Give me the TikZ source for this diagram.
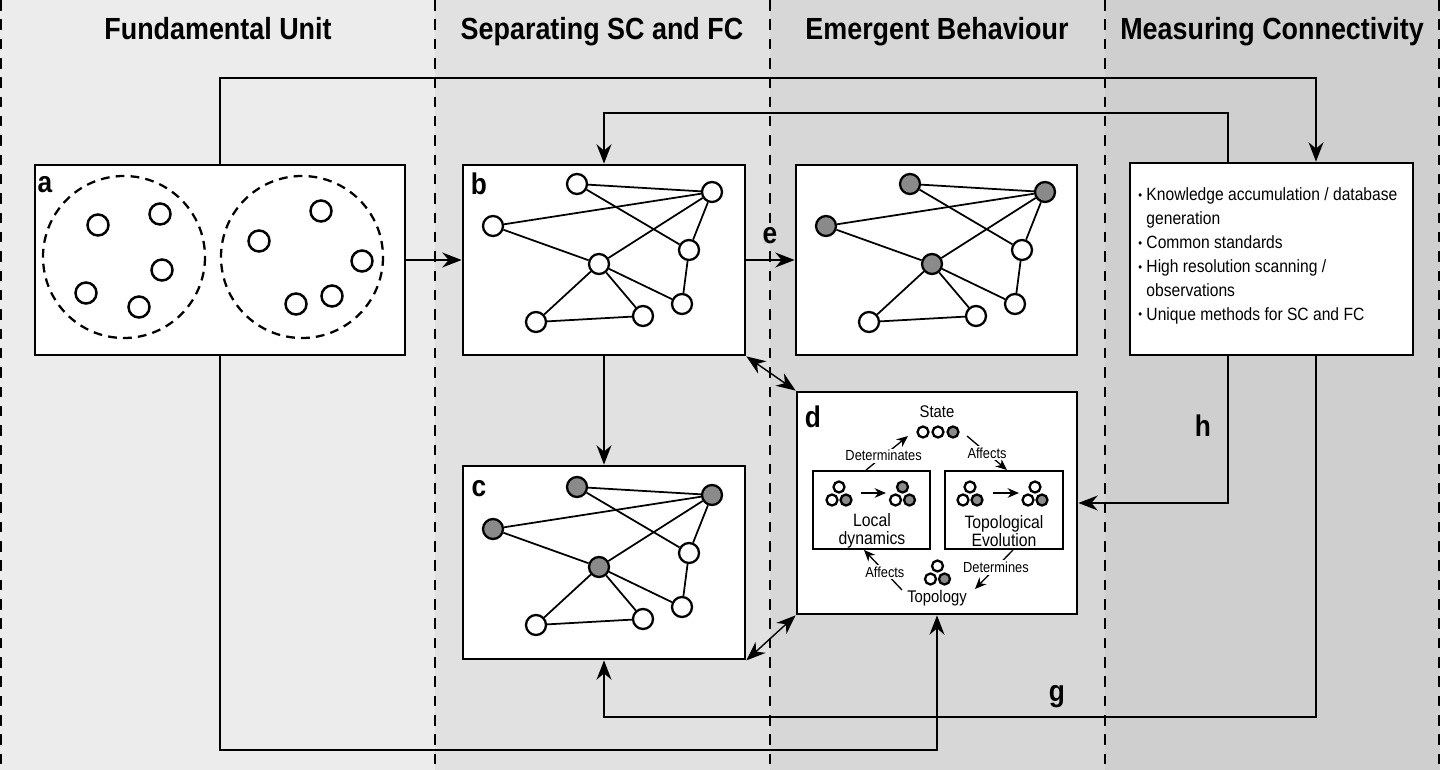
\documentclass[tikz,border=0pt]{standalone}
\usepackage{fontspec}
\setmainfont{Liberation Sans}[FakeStretch=0.88]
\usetikzlibrary{arrows.meta}

\definecolor{colA}{HTML}{ECECEC}
\definecolor{colB}{HTML}{E1E1E1}
\definecolor{colC}{HTML}{D7D7D7}
\definecolor{colD}{HTML}{CFCFCF}
\definecolor{netgray}{HTML}{8A8A8A}

\tikzset{
  sepline/.style={line width=1.1pt, dash pattern=on 6pt off 5pt},
  head/.style={font=\fontsize{17.4}{20}\selectfont\bfseries, inner sep=0pt, anchor=base},
  panel/.style={draw, line width=1.6pt, fill=white, inner sep=0pt},
  plabel/.style={font=\fontsize{17}{17}\selectfont\bfseries, inner sep=0pt},
  ring/.style={line width=1.3pt, dash pattern=on 5pt off 3.5pt},
  cell/.style={line width=1.4pt},
  vtx/.style={circle, draw, line width=1.3pt, fill=white, inner sep=0pt, minimum size=0.4cm},
  edge/.style={line width=1pt},
  conn/.style={line width=0.8pt, -{Stealth[length=11pt,width=8.5pt]}},
  dconn/.style={line width=0.8pt, {Stealth[length=11pt,width=8.5pt]}-{Stealth[length=11pt,width=8.5pt]}},
  inbox/.style={draw, line width=1.1pt, inner sep=0pt, minimum width=2.34cm, minimum height=1.56cm},
  mini/.style={line width=1.3pt},
  sconn/.style={line width=0.75pt, -{Stealth[length=6.5pt,width=5.5pt]}},
  big/.style={font=\fontsize{10.2}{10.5}\selectfont, align=center, inner sep=0pt},
  small/.style={font=\fontsize{8.3}{9}\selectfont, fill=white, inner sep=1pt}
}

\newcommand{\hbul}{\raisebox{0.15ex}{\scriptsize\textbullet}}

\begin{document}
\begin{tikzpicture}[x=0.02cm, y=-0.02cm]
    \useasboundingbox (0,0) rectangle (1440,770);

    % columns
    \fill[colA] (0,0) rectangle (435,770);
    \fill[colB] (435,0) rectangle (770,770);
    \fill[colC] (770,0) rectangle (1105,770);
    \fill[colD] (1105,0) rectangle (1440,770);
    \foreach \x in {1,435,770,1105,1439}
        \draw[sepline] (\x,0) -- (\x,770);

    \node[head] (hd1) at (218,40) {Fundamental Unit};
    \node[head] (hd2) at (602,40) {Separating SC and FC};
    \node[head] (hd3) at (937,40) {Emergent Behaviour};
    \node[head] (hd4) at (1272,40) {Measuring Connectivity};

    % panels
    \node[panel, minimum width=7.4cm, minimum height=3.8cm] (pa) at (220,260) {};
    \node[panel, minimum width=5.64cm, minimum height=3.8cm] (pb) at (604,260) {};
    \node[panel, minimum width=5.62cm, minimum height=3.8cm] (pe) at (936.5,260) {};
    \node[panel, minimum width=5.66cm, minimum height=3.84cm] (ph) at (1271.5,259) {};
    \node[panel, minimum width=5.64cm, minimum height=3.86cm] (pc) at (604,562.5) {};
    \node[panel, minimum width=5.6cm, minimum height=4.44cm] (pd) at (937,503) {};

    \node[plabel] (la) at (45,185) {a};
    \node[plabel] (lb) at (479,184) {b};
    \node[plabel] (lc) at (479,489) {c};
    \node[plabel] (ld) at (813,417) {d};
    \node[plabel, fill=colC] (le) at (770,236) {e};
    \node[plabel] (lh) at (1203,426) {h};
    \node[plabel] (lg) at (1057,697) {g};

    % panel a
    \draw[ring] (124,257) circle (81);
    \draw[ring] (302,257) circle (81);
    \foreach \x/\y in {98/225,160/214,162/270,86/293,139/307,
                       259/241,321/211,362/261,332/296,296/304}
        \draw[cell] (\x,\y) circle (10.5);

    % networks b, c, e
    \foreach \p/\dx/\dy/\f in {b/0/0/white, c/0/303/netgray, e/333/0/netgray}{
        \begin{scope}[shift={(\dx,\dy)}]
            \node[vtx, fill=\f] (\p1) at (577,184) {};
            \node[vtx, fill=\f] (\p2) at (712,192) {};
            \node[vtx, fill=\f] (\p3) at (493,226) {};
            \node[vtx] (\p4) at (689,250) {};
            \node[vtx, fill=\f] (\p5) at (599,264) {};
            \node[vtx] (\p6) at (682,304) {};
            \node[vtx] (\p7) at (643,316) {};
            \node[vtx] (\p8) at (536,322) {};
        \end{scope}
        \foreach \u/\v in {1/2,1/4,3/2,3/5,5/2,2/4,4/6,5/6,5/7,5/8,8/7}
            \draw[edge] (\p\u) -- (\p\v);
    }

    % panel h
    \node[font=\fontsize{10.1}{13.6}\selectfont, align=left, anchor=west, inner sep=0pt] (hlist) at (1138,256)
        {\hbul{} Knowledge accumulation / database\\
         \phantom{\hbul{} }generation\\
         \hbul{} Common standards\\
         \hbul{} High resolution scanning /\\
         \phantom{\hbul{} }observations\\
         \hbul{} Unique methods for SC and FC};

    % panel d
    \node[inbox] (loc) at (871.5,510) {};
    \node[inbox, minimum width=2.36cm] (top) at (1004,510) {};
    \node[big] (locT) at (872,531) {Local\\dynamics};
    \node[big] (topT) at (1004,531) {Topological\\Evolution};
    \node[font=\fontsize{9.6}{10}\selectfont, inner sep=0pt] (state) at (937,412) {State};
    \node[font=\fontsize{9.6}{10}\selectfont, inner sep=0pt] (topo) at (937,598) {Topology};

    \draw[mini] (923,432) circle (5.5);
    \draw[mini] (938,432) circle (5.5);
    \draw[mini, fill=netgray] (953,432) circle (5.5);
    \foreach \x/\y/\ft/\fl/\fr in {839/500/white/white/netgray, 902.5/500/netgray/white/netgray,
                                  970/500/white/white/netgray, 1035/500/white/white/netgray,
                                  937.5/579/white/white/netgray}{
        \draw[mini, fill=\ft] (\x,\y-13) circle (5.5);
        \draw[mini, fill=\fl] (\x-7,\y) circle (5.5);
        \draw[mini, fill=\fr] (\x+7,\y) circle (5.5);
    }
    \draw[sconn] (861,493) -- (886,493);
    \draw[sconn] (993,493) -- (1019,493);

    \coordinate (c1) at (908,436);
    \coordinate (c2) at (967,436);
    \coordinate (c3) at (975,589);
    \coordinate (c4) at (902,590);
    \draw[sconn] (loc.north -| 866,0) -- node[small, pos=0.42] {Determinates} (c1);
    \draw[sconn] (c2) -- node[small, pos=0.5] {Affects} (top.north -| 1007,0);
    \draw[sconn] (top.south -| 1013,0) -- node[small, pos=0.45] {Determines} (c3);
    \draw[sconn] (c4) -- node[small, pos=0.45] {Affects} (loc.south -| 864,0);

    % connectors
    \draw[conn] (pa.east) -- (pa.east -| pb.west);
    \draw[conn] (pb.east) -- (pb.east -| pe.west);
    \draw[conn] (pb.south) -- (pc.north);
    \draw[dconn] (pb.south east) -- (pd.north west);
    \draw[dconn] (pc.south east) -- (pd.south west);

    \coordinate (ah) at (1316,78);
    \coordinate (hb) at (1228,113);
    \coordinate (gl) at (1316,717);
    \coordinate (ad) at (937,750);
    \draw[conn] (pa.north) |- (ah) -- (ah |- ph.north);
    \draw[conn] (hb |- ph.north) -- (hb) -| (pb.north);
    \draw[conn] (hb |- ph.south) |- (pd.east);
    \draw[conn] (gl |- ph.south) -- (gl) -| (pc.south);
    \draw[conn] (pa.south) |- (ad) -- (pd.south);
\end{tikzpicture}
\end{document}
